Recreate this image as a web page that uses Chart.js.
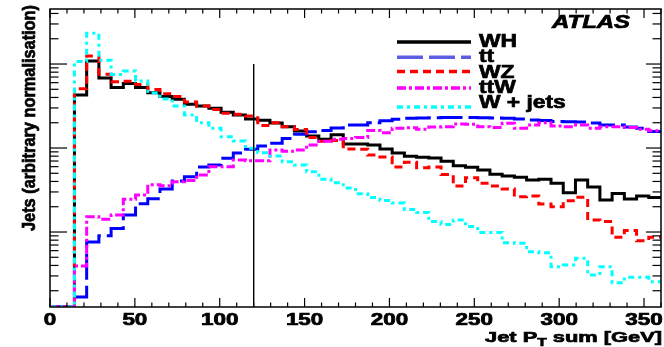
<!DOCTYPE html>
<html>
<head>
<meta charset="utf-8">
<script src="https://cdn.jsdelivr.net/npm/chart.js@4.4.1/dist/chart.umd.min.js"></script>
<style>
html, body { margin: 0; padding: 0; background: #fff; }
canvas { display: block; }
</style>
</head>
<body>
<canvas id="chart" width="664" height="347"></canvas>
<script>
// 50 bins of 7.2 GeV, left edges + last right edge
const binEdges = [0, 7.2, 14.4, 21.6, 28.8, 36, 43.2, 50.4, 57.6, 64.8, 72, 79.2, 86.4, 93.6, 100.8,
    108, 115.2, 122.4, 129.6, 136.8, 144, 151.2, 158.4, 165.6, 172.8, 180, 187.2, 194.4, 201.6, 208.8,
    216, 223.2, 230.4, 237.6, 244.8, 252, 259.2, 266.4, 273.6, 280.8, 288, 295.2, 302.4, 309.6, 316.8,
    324, 331.2, 338.4, 345.6, 352.8, 360];

// arbitrary normalisation (log scale)
const wh = [0, 0, 42.7, 109, 68.1, 52.5, 58.6, 52.5, 45.5, 41.0, 38.0, 33.1, 31.6, 29.7, 26.6, 24.7,
    22.1, 21.4, 19.8, 17.9, 15.9, 13.9, 12.7, 14.4, 11.2, 11.2, 10.9, 9.73, 8.72, 7.96, 7.77, 7.60,
    6.95, 6.15, 5.89, 5.47, 4.86, 4.64, 4.48, 4.16, 4.24, 3.80, 2.94, 4.16, 3.43, 2.40, 2.87, 2.47, 2.68, 2.57];
const tt = [0, 0, 0.168, 0.760, 0.901, 1.10, 1.59, 2.17, 2.49, 3.25, 4.05, 4.55, 5.94, 6.28, 7.54, 8.72,
    9.66, 10.6, 11.4, 13.0, 14.6, 15.6, 16.2, 17.3, 18.8, 18.8, 20.0, 21.1, 22.0, 22.6, 22.8, 22.9,
    23.1, 23.1, 23.1, 22.9, 22.8, 22.6, 22.1, 21.5, 21.2, 20.7, 20.5, 20.4, 19.8, 18.8, 18.8, 17.8, 17.2, 15.7];
const wz = [0, 0, 50.8, 125, 75.6, 61.5, 62.2, 57.0, 49.7, 44.2, 41.0, 35.3, 31.6, 28.7, 25.9, 25.2,
    24.0, 18.5, 20.0, 17.9, 16.6, 13.3, 12.0, 12.3, 9.73, 9.68, 8.25, 7.81, 5.94, 6.78, 5.83, 5.94,
    4.84, 3.53, 4.43, 3.80, 3.53, 3.25, 2.63, 2.68, 2.15, 2.00, 2.36, 2.59, 1.39, 1.33, 0.865, 1.04, 0.788, 0.865];
const ttw = [0, 0, 0.394, 1.52, 1.42, 1.59, 2.45, 2.76, 3.66, 3.55, 3.97, 4.10, 4.77, 5.99, 5.99, 7.20,
    7.06, 7.06, 9.47, 9.14, 9.47, 10.9, 12.0, 12.7, 13.0, 13.3, 16.2, 15.2, 17.2, 17.4, 16.7, 17.8,
    17.9, 19.3, 19.2, 17.9, 17.5, 19.7, 17.2, 18.8, 20.0, 18.3, 17.9, 18.8, 17.2, 17.9, 17.9, 17.5, 16.7, 16.1];
const wjets = [0, 0, 107, 232, 111, 75.0, 82.6, 62.8, 45.2, 38.3, 31.6, 24.7, 20.0, 17.2, 13.6, 12.1,
    9.92, 8.79, 8.03, 6.87, 6.28, 5.22, 4.25, 3.86, 3.34, 2.85, 2.57, 2.37, 2.21, 1.86, 1.71, 1.33,
    1.23, 1.39, 1.16, 0.99, 0.99, 0.746, 0.733, 0.583, 0.567, 0.386, 0.405, 0.486, 0.308, 0.386, 0.249, 0.289, 0.289, 0.256];

const cutValue = 120;
const cutTop = 100;

const xTickLabels = ["0", "50", "100", "150", "200", "250", "300", "350"];
const yMin = 0.128, yMax = 452;

const series = [
    { label: "WH", data: wh, color: "#000000", dash: [], order: 5 },
    { label: "tt", data: tt, color: "#0000ff", legendColor: "#5e5ee4", dash: [26, 6], order: 4 },
    { label: "WZ", data: wz, color: "#ff0000", dash: [8, 5], order: 3 },
    { label: "ttW", data: ttw, color: "#ff00ff", dash: [9, 3, 3, 3], order: 2 },
    { label: "W + jets", data: wjets, color: "#00ffff", dash: [6, 4, 3, 4], order: 1 }
];

function histPoints(values) {
    var pts = values.map(function (v, i) {
        return { x: binEdges[i], y: v > 0 ? v : yMin };
    });
    pts.push({ x: binEdges[values.length], y: pts[pts.length - 1].y });
    return pts;
}

var datasets = series.map(function (s) {
    return {
        label: s.label,
        data: histPoints(s.data),
        borderColor: s.color,
        borderWidth: 3,
        borderDash: s.dash,
        borderCapStyle: 'butt',
        borderJoinStyle: 'miter',
        stepped: true,
        fill: false,
        pointRadius: 0,
        order: s.order
    };
});

// selection cut
datasets.push({
    label: "cut",
    data: [{ x: cutValue, y: cutTop }, { x: cutValue, y: yMin }],
    borderColor: "#000000",
    borderWidth: 1,
    pointRadius: 0,
    fill: false,
    order: 0
});

// text drawn with a slight outline so it looks like the heavy ROOT Helvetica
function stretchText(ctx, text, x, y, font, sx, align) {
    ctx.save();
    ctx.font = font;
    var w = ctx.measureText(text).width * sx;
    var left = align === 'center' ? x - w / 2 : (align === 'right' ? x - w : x);
    ctx.translate(left, y);
    ctx.scale(sx, 1);
    ctx.textAlign = 'left';
    ctx.textBaseline = 'alphabetic';
    ctx.lineWidth = 0.7;
    ctx.strokeStyle = '#000';
    ctx.fillText(text, 0, 0);
    ctx.strokeText(text, 0, 0);
    ctx.restore();
}

function seg(ctx, x1, y1, x2, y2) {
    ctx.beginPath();
    ctx.moveTo(x1, y1);
    ctx.lineTo(x2, y2);
    ctx.stroke();
}

const rootFrame = {
    id: 'rootFrame',
    beforeDraw(chart) {
        var ctx = chart.ctx;
        ctx.save();
        ctx.fillStyle = '#ffffff';
        ctx.fillRect(0, 0, chart.width, chart.height);
        ctx.restore();
    },
    afterDraw(chart) {
        var ctx = chart.ctx, a = chart.chartArea;
        var x = chart.scales.x, y = chart.scales.y;
        ctx.save();
        ctx.strokeStyle = '#000';
        ctx.fillStyle = '#000';
        ctx.lineWidth = 1.5;
        ctx.strokeRect(a.left, a.top, a.right - a.left, a.bottom - a.top);

        // x ticks, inward on both sides
        ctx.lineWidth = 1.2;
        for (var v = 0; v <= 360; v += 10) {
            var px = x.getPixelForValue(v);
            var len = v % 50 === 0 ? 9 : 4.5;
            seg(ctx, px, a.bottom, px, a.bottom - len);
            seg(ctx, px, a.top, px, a.top + len);
        }
        // log y ticks
        for (var d = -1; d <= 2; d++) {
            for (var m = 1; m <= 9; m++) {
                var val = m * Math.pow(10, d);
                if (val < y.min || val > y.max) continue;
                var py = y.getPixelForValue(val);
                var l = m === 1 ? 17 : 8.5;
                seg(ctx, a.left, py, a.left + l, py);
                seg(ctx, a.right, py, a.right - l + (m === 1 ? 2 : 0), py);
            }
        }

        // x tick labels
        xTickLabels.forEach(function (t) {
            stretchText(ctx, t, x.getPixelForValue(Number(t)), 325, 'bold 16px "Liberation Sans"', 1.4, 'center');
        });

        // x title with subscript
        var fMain = 'bold 15.5px "Liberation Sans"', fSub = 'bold 11px "Liberation Sans"';
        ctx.font = fMain;
        var w1 = ctx.measureText("Jet P").width;
        var w3 = ctx.measureText(" sum [GeV]").width;
        ctx.font = fSub;
        var w2 = ctx.measureText("T").width;
        var sx = 177 / (w1 + w2 + w3);
        var x0 = 662 - 177;
        stretchText(ctx, "Jet P", x0, 342, fMain, sx, 'left');
        stretchText(ctx, "T", x0 + w1 * sx, 345.5, fSub, sx, 'left');
        stretchText(ctx, " sum [GeV]", x0 + (w1 + w2) * sx, 342, fMain, sx, 'left');

        // y title, rotated
        ctx.save();
        ctx.translate(35, 231);
        ctx.rotate(-Math.PI / 2);
        var yt = "Jets (arbitrary normalisation)";
        ctx.font = 'bold 18px "Liberation Sans"';
        var ys = 226 / ctx.measureText(yt).width;
        stretchText(ctx, yt, 0, 0, 'bold 18px "Liberation Sans"', ys, 'left');
        ctx.restore();

        // ATLAS
        ctx.font = 'italic bold 18px "Liberation Sans"';
        var aw = ctx.measureText("ATLAS").width;
        stretchText(ctx, "ATLAS", 552, 28, 'italic bold 18px "Liberation Sans"', 78 / aw, 'left');

        // legend
        var rows = [42, 57.3, 71.5, 88, 107];
        var bases = [47, 61.5, 77.5, 92.5, 108];
        series.forEach(function (s, i) {
            ctx.save();
            ctx.strokeStyle = s.legendColor || s.color;
            ctx.lineWidth = 3.5;
            ctx.lineCap = 'butt';
            ctx.setLineDash(s.dash);
            seg(ctx, 397, rows[i], 471, rows[i]);
            ctx.restore();
            stretchText(ctx, s.label, 479, bases[i], 'bold 19px "Liberation Sans"', 1.2, 'left');
        });
        ctx.restore();
    }
};

new Chart(document.getElementById("chart"), {
    type: 'line',
    data: { datasets: datasets },
    options: {
        responsive: false,
        animation: false,
        layout: { padding: { left: 50, right: 3, top: 9, bottom: 40 } },
        plugins: {
            legend: { display: false },
            tooltip: { enabled: false }
        },
        scales: {
            x: { type: 'linear', min: 0, max: 360, display: false },
            y: { type: 'logarithmic', min: yMin, max: yMax, display: false }
        }
    },
    plugins: [rootFrame]
});
</script>
</body>
</html>
